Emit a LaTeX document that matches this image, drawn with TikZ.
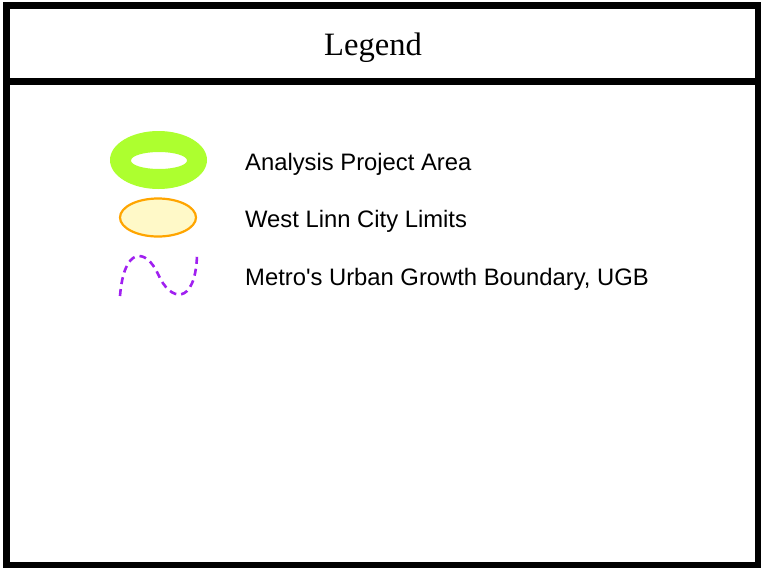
\documentclass[tikz,border=0pt]{standalone}
\usepackage{fontspec}
\setmainfont{Liberation Serif}
\newfontfamily\labelfont{Liberation Sans}
\usepackage{tikz}
\usetikzlibrary{positioning,shapes.geometric}
\definecolor{areagreen}{HTML}{ADFF2F}
\definecolor{limitorange}{HTML}{FFA500}
\definecolor{limitfill}{HTML}{FFF9C8}
\definecolor{ugbpurple}{HTML}{A020F0}
\tikzset{
  legendtext/.style={anchor=base west, inner sep=0pt, font=\labelfont\fontsize{23.8}{28}\selectfont},
  frameline/.style={line width=7pt, draw=black}
}
\begin{document}
\begin{tikzpicture}[x=1pt,y=-1pt]
                    \useasboundingbox (0,0) rectangle (761,568);
                    \draw[frameline] (6.5,5.5) rectangle (758.5,565);
                    \draw[frameline] (6.5,81.5) -- (758.5,81.5);
                    \node[anchor=base, inner sep=0pt, font=\fontsize{32.6}{38}\selectfont] (title) at (373,55) {Legend};
                    % symbols
                    \fill[areagreen, even odd rule] (158.5,160) ellipse [x radius=48.5, y radius=29] (159,160.5) ellipse [x radius=28, y radius=8.5];
                    \draw[limitorange, line width=2.2pt, fill=limitfill] (158,217.5) ellipse [x radius=38, y radius=19];
                    \draw[ugbpurple, line width=2.6pt, dash pattern=on 7pt off 5pt] (120,296) .. controls (124,246) and (146,248) .. (158,274) .. controls (170,302) and (195,306) .. (197,256);
                    % labels
                    \node[legendtext] (area) at (245,170) {Analysis Project Area};
                    \node[legendtext] (limits) at (245,227) {West Linn City Limits};
                    \node[legendtext] (ugb) at (245,285) {Metro's Urban Growth Boundary, UGB};
                \end{tikzpicture}
\end{document}
